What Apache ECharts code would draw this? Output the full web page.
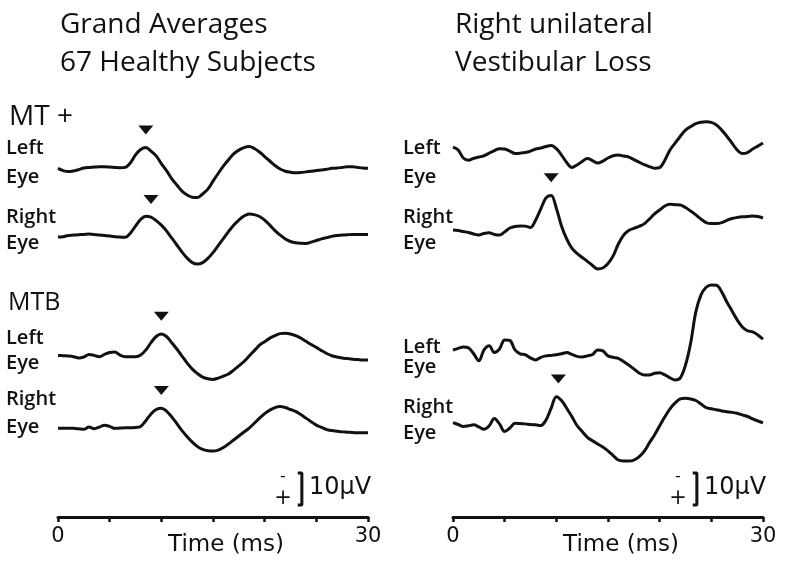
<!DOCTYPE html>
<html>
<head>
<meta charset="utf-8">
<script src="https://cdn.jsdelivr.net/npm/echarts@6/dist/echarts.min.js"></script>
<style>
  html, body { margin: 0; padding: 0; background: #fff; }
  #chart { width: 785px; height: 563px; }
</style>
</head>
<body>
<div id="chart"></div>
<script>
// sample times, 0 to 30 ms every 0.5 ms
var times = Array.from({length: 61}, function (_, i) { return i * 0.5; });

// deflections in µV (negative up, as in the figure)
var healthyMtLeft = [-0.2,0.5,0.8,0.6,0.2,-0.3,-0.5,-0.6,-0.7,-0.7,-0.6,-0.5,-0.4,-0.5,-1.9,-4.4,-6.1,-6.7,-5.6,-4.1,
  -1.7,0.5,3.0,5.0,6.9,8.1,8.8,8.9,7.8,6.3,3.8,1.4,-0.9,-2.9,-4.7,-5.9,-6.7,-7.0,-6.4,-5.3,
  -3.9,-2.5,-1.1,0,0.7,1.0,1.2,1.1,0.9,0.7,0.5,0.3,0.1,-0.2,-0.3,-0.5,-0.7,-0.7,-0.5,-0.3,-0.2];
var healthyMtRight = [0.3,0.2,-0.2,-0.3,-0.4,-0.5,-0.6,-0.5,-0.3,-0.2,0,0.2,0.3,0.4,-0.9,-3.1,-5.2,-6.2,-5.9,-4.8,
  -3.4,-1.6,0.6,2.8,5.0,6.9,8.3,8.75,8.3,7.0,5.2,3.0,0.8,-1.4,-3.4,-5.0,-6.25,-6.9,-6.7,-6.1,
  -5.0,-3.4,-1.7,-0.3,0.9,1.7,2.1,2.25,2.3,1.9,1.4,0.9,0.5,0.1,-0.2,-0.3,-0.4,-0.5,-0.5,-0.5,-0.5];
var healthyMtbLeft = [-0.2,-0.1,0,0.2,0.6,0.3,-0.5,-0.2,0.2,-0.5,-1.1,-1.25,-0.3,0.2,0.2,0.2,-0.3,-1.9,-4.2,-6.1,
  -6.9,-6.1,-4.2,-2.2,0,2.2,4.1,5.5,6.6,7.1,7.3,6.9,6.3,5.6,4.4,3.1,1.7,0,-1.7,-3.4,
  -4.5,-5.6,-6.4,-7.0,-7.1,-6.9,-6.4,-5.6,-4.6,-3.6,-2.7,-1.7,-0.8,-0.1,0.3,0.6,0.8,1.0,1.1,1.2,1.25];
var healthyMtbRight = [0.1,0.1,0.1,0.1,0.25,0.4,-0.3,0.2,-0.3,-0.9,-0.5,0.1,0,-0.1,-0.1,-0.2,-0.5,-2.3,-4.4,-5.8,
  -6.2,-5.3,-3.5,-1.4,0.8,2.7,4.4,5.8,6.7,7.1,7.2,6.9,6.1,5.0,3.75,2.5,1.25,0,-1.5,-3.1,
  -4.5,-5.6,-6.4,-6.7,-6.4,-5.8,-5.2,-4.2,-3.1,-2.0,-0.9,-0.2,0.5,0.8,1.0,1.2,1.3,1.4,1.5,1.5,1.5];

var lossMtLeft = [-2.5,-1.6,0.9,1.6,1.0,0.6,0.2,-0.6,-1.4,-2.0,-1.9,-1.25,-0.5,-0.6,-0.8,-1.25,-1.9,-2.2,-2.7,-3.0,
  -2.0,0,2.3,3.9,3.1,2.0,1.1,1.7,2.5,1.9,0.9,0.2,0,0.3,0.6,1.4,2.2,3.0,3.6,4.1,
  3.9,1.6,-1.6,-3.75,-5.9,-7.8,-8.9,-9.8,-10.25,-10.4,-10.2,-9.4,-7.8,-5.9,-3.75,-1.6,-0.5,-0.8,-1.9,-2.8,-3.75];
var lossMtRight = [0,0.2,0.5,0.8,1.25,1.6,1.1,0.9,1.4,1.6,0.6,-0.6,-1.1,-1.25,-1.2,-0.8,-3.1,-6.6,-10.0,-10.8,
  -6.8,-1.25,2.8,5.7,7.3,8.6,9.8,11.1,12.2,11.9,10.5,8.1,4.4,1.7,0.2,-0.5,-1.1,-1.9,-3.4,-5.0,
  -6.25,-7.5,-8.0,-7.9,-7.8,-7.0,-5.9,-4.7,-3.4,-2.3,-2.0,-2.0,-2.3,-3.0,-3.6,-3.9,-4.1,-4.2,-4.4,-4.2,-3.75];
var lossMtbLeft = [-0.6,-1.1,-1.5,-1.25,0.6,2.8,-0.6,-1.9,0.2,-0.9,-3.75,-3.6,-0.6,0.6,0.9,1.9,2.5,1.7,1.25,1.1,
  0.9,0.6,0.2,0.8,1.4,1.6,1.25,0.8,-0.6,-0.3,1.25,1.7,2.0,3.0,4.1,5.3,6.6,7.2,7.2,6.7,
  6.5,7.2,8.1,8.75,8.1,4.1,-2.8,-12.5,-17.8,-20.2,-20.9,-20.8,-18.75,-15.6,-12.8,-10.0,-7.8,-6.6,-6.25,-5.3,-4.0];
var lossMtbRight = [-0.1,0.5,1.1,0.9,0.6,1.25,2.0,0.9,-1.4,0.3,2.7,1.6,0.1,0.2,0.3,0.5,0.6,0.8,-0.9,-4.6,
  -8.2,-7.0,-4.6,-2.0,0.8,2.7,4.5,5.6,6.6,7.5,8.75,10.2,11.6,11.9,11.9,11.6,10.6,8.9,6.25,3.75,
  0.9,-1.9,-4.4,-6.25,-7.5,-7.7,-7.5,-7.0,-5.9,-4.8,-4.4,-4.1,-3.75,-3.5,-3.3,-3.0,-2.5,-2.0,-1.25,-0.6,0];

// trace baselines on the stacked µV axis (MT+ left, MT+ right, MTB left, MTB right)
var healthyBase = [41.25, 62.2, 99.7, 122.2];
var lossBase = [36.9, 60.3, 98.4, 120.6];

// marked peak latencies (ms), null where no marker
var healthyPeaks = [8.5, 9.0, 10.0, 10.0];
var lossPeaks = [null, 9.5, null, 10.2];

var xTicks = [0, 30];
var scaleBarMs = 23.6, scaleBarTop = 136.25, scaleBarUv = 10;

var ink = '#111';
var narrow = "'DejaVu Sans'";
var sans = "'Open Sans','Noto Sans',sans-serif";

function traceSeries(g, vals, base) {
  return {
    type: 'line', xAxisIndex: g, yAxisIndex: g, clip: false,
    showSymbol: false, smooth: 0.35, silent: true,
    lineStyle: {color: ink, width: 3},
    data: times.map(function (t, i) { return [t, base + vals[i]]; })
  };
}

function arrowSeries(g, peaks, traces, bases) {
  var pts = [];
  peaks.forEach(function (p, k) {
    if (p === null) return;
    var idx = Math.round(p / 0.5);
    pts.push([p, bases[k] + traces[k][idx] - 5.5]);
  });
  return {
    type: 'scatter', xAxisIndex: g, yAxisIndex: g, silent: true,
    symbol: 'triangle', symbolRotate: 180, symbolSize: [15, 9],
    itemStyle: {color: '#111', opacity: 1}, data: pts
  };
}

function scaleBar(g) {
  var t = scaleBarMs, w = 0.4;
  return {
    type: 'line', xAxisIndex: g, yAxisIndex: g, clip: false, silent: true,
    showSymbol: false, lineStyle: {color: ink, width: 3},
    data: [[t - w, scaleBarTop], [t, scaleBarTop], [t, scaleBarTop + scaleBarUv], [t - w, scaleBarTop + scaleBarUv]]
  };
}

function xAxis(g) {
  return {
    type: 'value', gridIndex: g, min: 0, max: 30, interval: 5, position: 'bottom',
    axisLine: {onZero: false, lineStyle: {color: ink, width: 3}},
    axisTick: {length: 5, lineStyle: {color: ink, width: 2.5}},
    splitLine: {show: false},
    axisLabel: {
      margin: 9, color: ink, fontSize: 21, fontWeight: 500, fontFamily: narrow,
      formatter: function (v) { return xTicks.indexOf(v) >= 0 ? String(v) : ''; }
    }
  };
}

function yAxis(g) {
  return {type: 'value', gridIndex: g, min: 0, max: 150, inverse: true, show: false};
}

function txt(s, x, y, font, align) {
  return {type: 'text', x: x, y: y, silent: true,
    style: {text: s, font: font, fill: ink, textAlign: align || 'left', textVerticalAlign: 'middle'}};
}

var titleFont = '400 28px ' + sans;
var eyeFont = '600 20px ' + sans;
var graphics = [
  txt('Grand Averages', 60, 25, titleFont),
  txt('67 Healthy Subjects', 60, 63, titleFont),
  txt('Right unilateral', 455, 25, titleFont),
  txt('Vestibular Loss', 455, 63, titleFont),
  txt('MT +', 9, 117, '400 28px ' + sans),
  txt('MTB', 8, 303, '400 25px ' + sans)
];
[[148, 177, 217, 243, 338, 363, 399, 427, 6], [148, 177, 217, 243, 347, 367, 407, 433, 403]].forEach(function (c) {
  var labs = ['Left', 'Eye', 'Right', 'Eye', 'Left', 'Eye', 'Right', 'Eye'];
  labs.forEach(function (l, i) { graphics.push(txt(l, c[8], c[i], eyeFont)); });
});
[[0, 58], [1, 453]].forEach(function (p) {
  var ox = p[1];
  graphics.push(txt('-', ox + 225, 477, '500 16px ' + narrow, 'center'));
  graphics.push(txt('+', ox + 225, 499, '500 21px ' + narrow, 'center'));
  graphics.push(txt('10µV', ox + 251, 488, '500 24px ' + narrow));
  graphics.push(txt('Time (ms)', ox + 168, 545, '500 23px ' + narrow, 'center'));
});

var myChart = echarts.init(document.getElementById('chart'));
var option = {
  animation: false,
  backgroundColor: '#fff',
  grid: [
    {left: 58, width: 310, top: 37, height: 480},
    {left: 453, width: 310, top: 37, height: 480}
  ],
  xAxis: [xAxis(0), xAxis(1)],
  yAxis: [yAxis(0), yAxis(1)],
  series: [
    traceSeries(0, healthyMtLeft, healthyBase[0]),
    traceSeries(0, healthyMtRight, healthyBase[1]),
    traceSeries(0, healthyMtbLeft, healthyBase[2]),
    traceSeries(0, healthyMtbRight, healthyBase[3]),
    traceSeries(1, lossMtLeft, lossBase[0]),
    traceSeries(1, lossMtRight, lossBase[1]),
    traceSeries(1, lossMtbLeft, lossBase[2]),
    traceSeries(1, lossMtbRight, lossBase[3]),
    arrowSeries(0, healthyPeaks, [healthyMtLeft, healthyMtRight, healthyMtbLeft, healthyMtbRight], healthyBase),
    arrowSeries(1, lossPeaks, [lossMtLeft, lossMtRight, lossMtbLeft, lossMtbRight], lossBase),
    scaleBar(0),
    scaleBar(1)
  ],
  graphic: graphics
};
myChart.setOption(option);
</script>
</body>
</html>
